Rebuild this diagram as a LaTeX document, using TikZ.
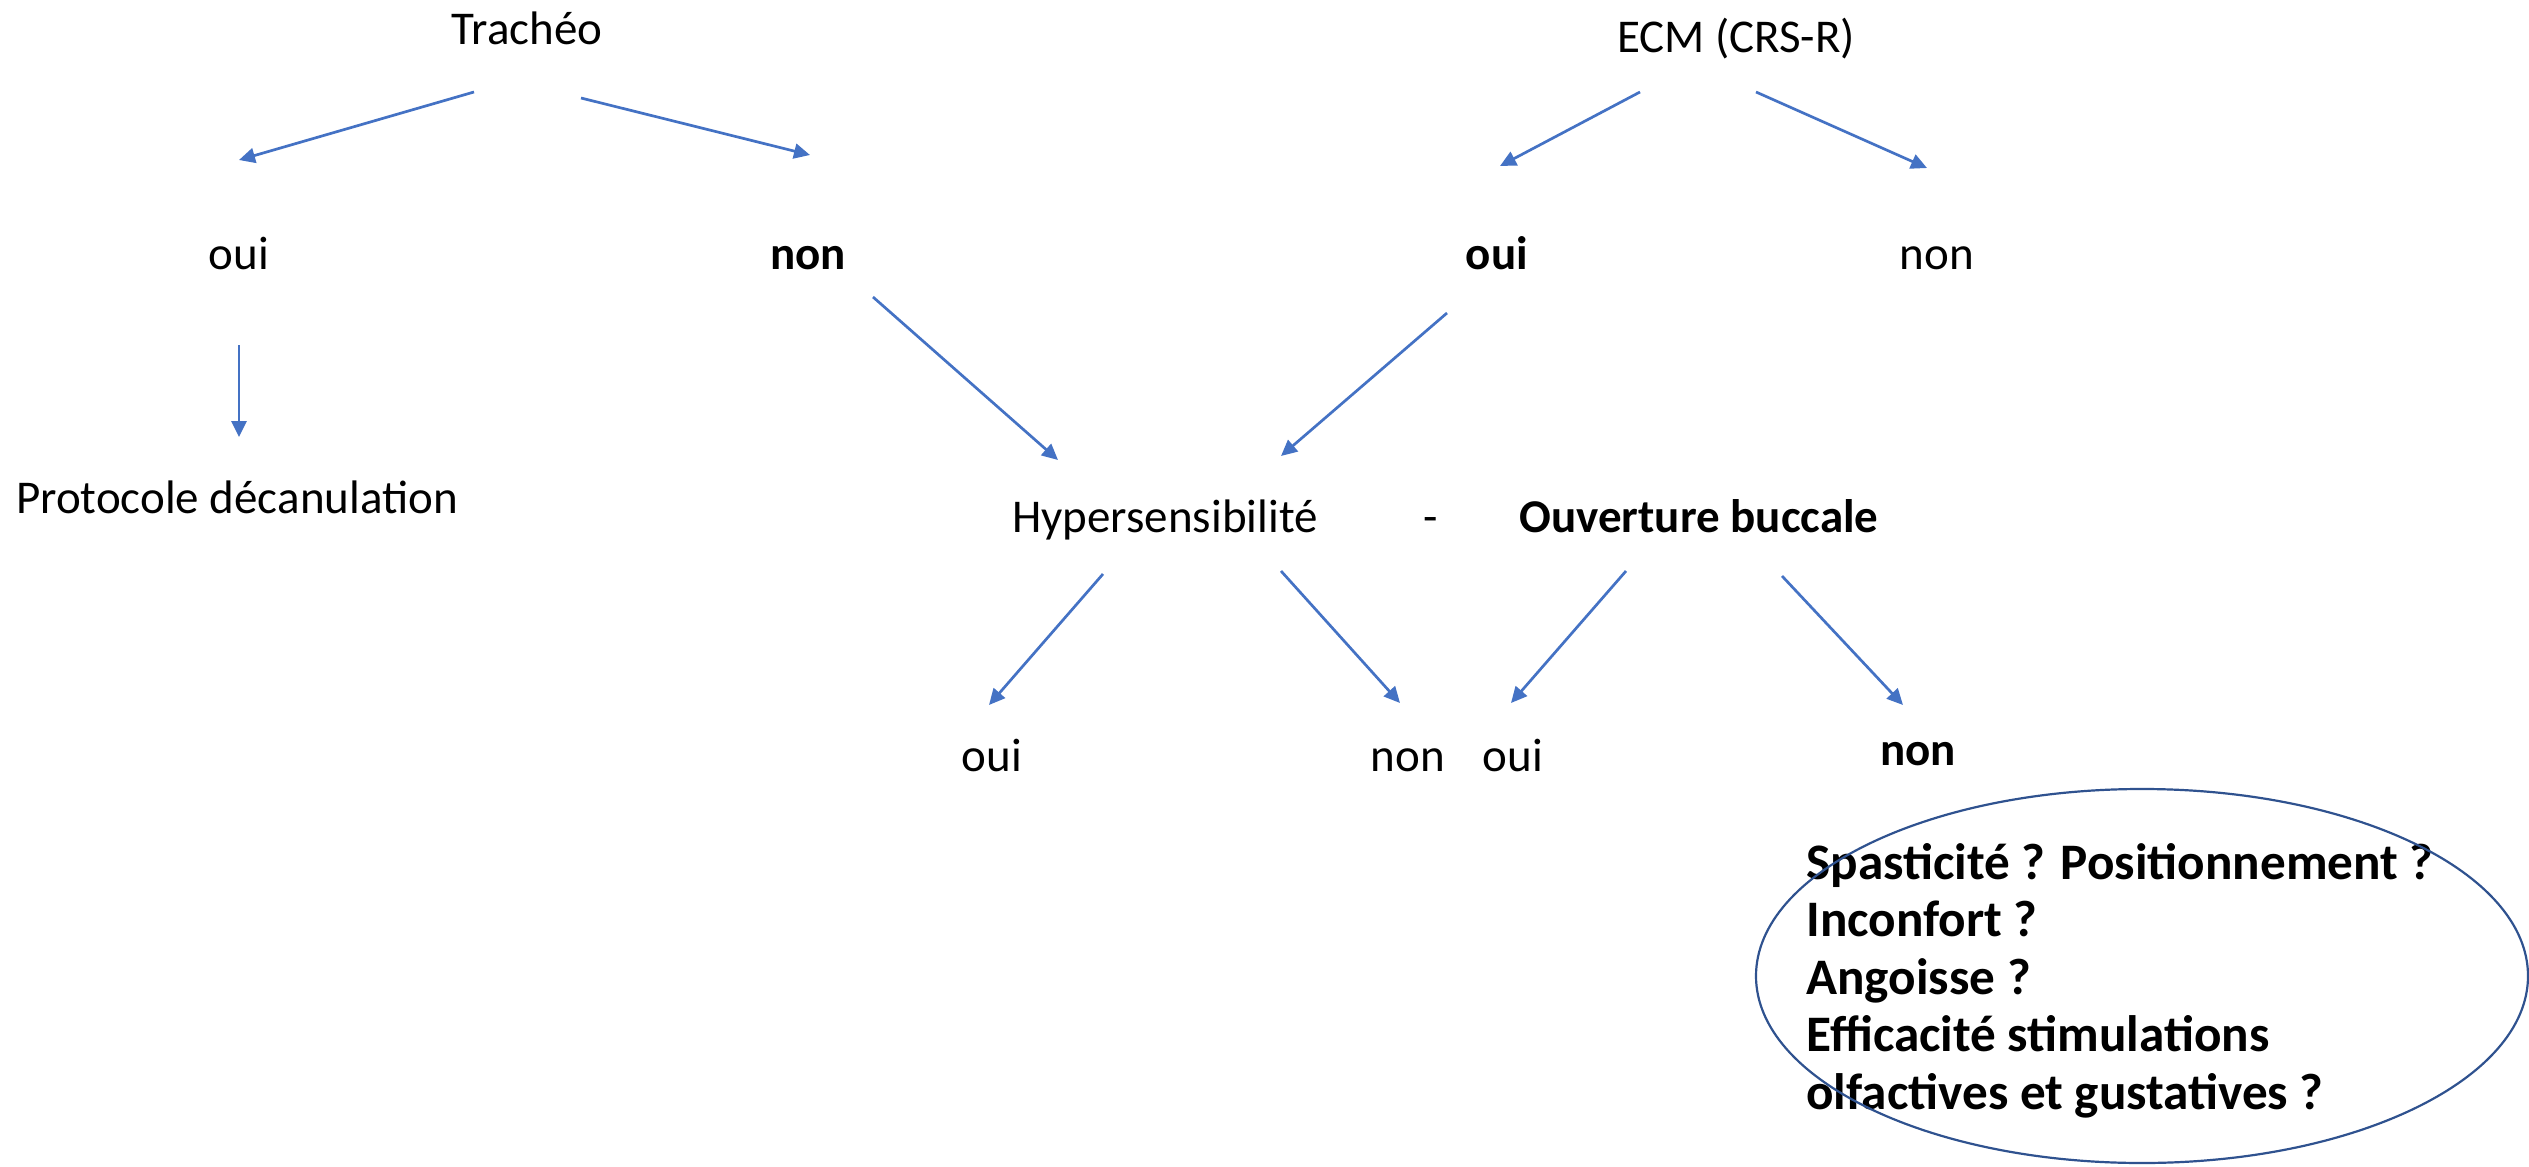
\documentclass[tikz,border=0pt]{standalone}
\usepackage{fontspec}
\setmainfont{Carlito}
\usetikzlibrary{arrows.meta}
\definecolor{arrowblue}{HTML}{4472C4}
\definecolor{ringblue}{HTML}{2F528F}
\begin{document}
\begin{tikzpicture}[x=0.5pt,y=-0.5pt,
  lbl/.style={anchor=base, inner sep=0pt, font=\fontsize{23.5pt}{28pt}\selectfont},
  blbl/.style={anchor=base, inner sep=0pt, font=\fontsize{23.5pt}{28pt}\selectfont\bfseries},
  link/.style={draw=arrowblue, line width=1.35pt, -{Triangle[length=8pt,width=7.5pt]}}]
\useasboundingbox (0,0) rectangle (2529,1167);

% first level
\node[lbl]  (trach) at (527,45)  {Trachéo};
\node[lbl]  (ecm)   at (1736,52) {ECM (CRS-R)};

% answers
\node[lbl]  (toui)  at (239,269)  {oui};
\node[blbl] (tnon)  at (808,269)  {non};
\node[blbl] (eoui)  at (1497,269) {oui};
\node[lbl]  (enon)  at (1937,269) {non};

% second level
\node[lbl]  (proto) at (237,513)  {Protocole décanulation};
\node[lbl]  (hyper) at (1165,532) {Hypersensibilité};
\node[lbl]  (dash)  at (1431,532) {-};
\node[blbl] (ouvb)  at (1699,532) {Ouverture buccale};

% third level
\node[lbl]  (houi)  at (992,771)  {oui};
\node[lbl]  (hnon)  at (1408,771) {non};
\node[lbl]  (ooui)  at (1513,771) {oui};
\node[blbl] (onon)  at (1918,765) {non};

% questions to check (base anchor sits on the last line)
\node[anchor=base west, inner sep=0pt, align=left,
      font=\fontsize{25.6pt}{28.75pt}\selectfont\bfseries] (quest) at (1806,1109)
  {Spasticité ? Positionnement ?\\Inconfort ?\\Angoisse ?\\Efficacité stimulations\\olfactives et gustatives ?};
\draw[ringblue, line width=1.1pt] (2142,976) ellipse [x radius=386, y radius=187];

% arrow end points
\coordinate (a1s) at (474,92);   \coordinate (a1e) at (239,160);
\coordinate (a2s) at (581,98);   \coordinate (a2e) at (810,155);
\coordinate (a3s) at (1640,92);  \coordinate (a3e) at (1500,166);
\coordinate (a4s) at (1756,92);  \coordinate (a4e) at (1927,168);
\coordinate (a5s) at (239,345);  \coordinate (a5e) at (239,437);
\coordinate (a6s) at (873,297);  \coordinate (a6e) at (1058,460);
\coordinate (a7s) at (1447,313); \coordinate (a7e) at (1281,456);
\coordinate (a8s) at (1103,574); \coordinate (a8e) at (989,705);
\coordinate (a9s) at (1281,571); \coordinate (a9e) at (1400,703);
\coordinate (a10s) at (1626,571); \coordinate (a10e) at (1511,703);
\coordinate (a11s) at (1782,576); \coordinate (a11e) at (1903,705);

\foreach \k in {1,...,11}
  \draw[link] (a\k s) -- (a\k e);
\end{tikzpicture}
\end{document}
